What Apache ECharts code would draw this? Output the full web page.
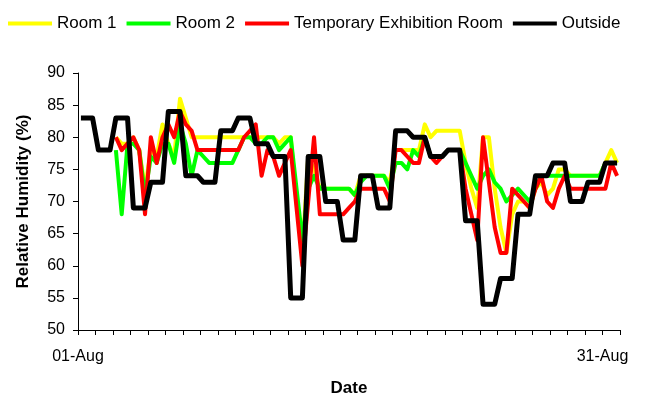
<!DOCTYPE html>
<html>
<head>
<meta charset="utf-8">
<script src="https://cdn.jsdelivr.net/npm/echarts@6/dist/echarts.min.js"></script>
<style>
html, body { margin: 0; padding: 0; background: #fff; }
#chart { width: 646px; height: 398px; }
</style>
</head>
<body>
<div id="chart"></div>
<script>
// three readings a day (8-hour slots), 01-Aug to 31-Aug
const seriesNames = ['Room 1', 'Room 2', 'Temporary Exhibition Room', 'Outside'];
const seriesColors = ['#ffff00', '#00ff00', '#ff0000', '#000000'];
const dayLabels = { 0: '01-Aug', 30: '31-Aug' };

const room1 = [
    null, null, null, null, null, null, 80, 79, 79, 80, 78, 72, 78, 77, 82, 79, 77, 86,
    83, 80, 80, 80, 80, 80, 80, 80, 80, 80, 80, 80, 80, 80, 80, 80, 79, 80,
    80, 70, 62, 77, 75, 72, 72, 72, 72, 72, 72, 71, 74, 74, 74, 74, 74, 73,
    78, 78, 78, 78, 78, 82, 80, 81, 81, 81, 81, 81, 76, 72, 69, 80, 80, 72,
    66, 62, 68, 70, 70, 69, 72, 73, 71, 72, 75, 75, 74, 74, 74, 74, 74, 74,
    76, 78, 76
];
const room2 = [
    null, null, null, null, null, null, 78, 68, 79, 79, 78, 71, 77, 76, 79, 79, 76, 82,
    79, 74, 78, 77, 76, 76, 76, 76, 76, 78, 80, 80, 79, 79, 80, 80, 78, 79,
    80, 72, 64, 72, 74, 72, 72, 72, 72, 72, 72, 71, 73, 74, 74, 74, 74, 72,
    76, 76, 75, 78, 77, 80, 77, 77, 77, 78, 78, 78, 76, 74, 72, 74, 75, 73,
    72, 70, 71, 72, 71, 70, 72, 74, 74, 74, 74, 74, 74, 74, 74, 74, 74, 74,
    76, 76, 76
];
const tempExhibition = [
    null, null, null, null, null, null, 80, 78, 79, 80, 78, 68, 80, 76, 80, 82, 80, 84,
    82, 81, 78, 78, 78, 78, 78, 78, 78, 78, 80, 81, 82, 74, 78, 77, 74, 76,
    78, 69, 60, 70, 80, 68, 68, 68, 68, 68, 69, 70, 72, 72, 72, 72, 72, 70,
    78, 78, 77, 76, 76, 80, 77, 76, 77, 78, 78, 78, 72, 68, 64, 80, 73, 66,
    62, 62, 72, 71, 70, 69, 72, 74, 70, 69, 72, 74, 72, 72, 72, 72, 72, 72,
    72, 76, 74
];
const outside = [
    83, 83, 83, 78, 78, 78, 83, 83, 83, 69, 69, 69, 73, 73, 73, 84, 84, 84,
    74, 74, 74, 73, 73, 73, 81, 81, 81, 83, 83, 83, 79, 79, 79, 77, 77, 77,
    55, 55, 55, 77, 77, 77, 70, 70, 70, 64, 64, 64, 74, 74, 74, 69, 69, 69,
    81, 81, 81, 80, 80, 80, 77, 77, 77, 78, 78, 78, 67, 67, 67, 54, 54, 54,
    58, 58, 58, 68, 68, 68, 74, 74, 74, 76, 76, 76, 70, 70, 70, 73, 73, 73,
    76, 76, 76
];

// each reading sits in the middle of its 8-hour slot (x in days from 01-Aug)
const readingTimes = outside.map((_, i) => (i + 0.5) / 3);

const allSeries = [room1, room2, tempExhibition, outside];
const font = 'Liberation Sans, Arial, sans-serif';

let chart = echarts.init(document.getElementById('chart'));

let option = {
    animation: false,
    backgroundColor: '#fff',
    legend: {
        left: 3,
        top: 10,
        icon: 'rect',
        itemWidth: 44,
        itemHeight: 4,
        itemGap: 10,
        textStyle: { fontFamily: font, fontSize: 17, color: '#000' },
        data: seriesNames
    },
    grid: {
        left: 78,
        right: 26,
        top: 73,
        bottom: 68,
        outerBoundsMode: 'none'
    },
    xAxis: {
        type: 'value',
        min: 0,
        max: 31,
        interval: 1,
        name: 'Date',
        nameLocation: 'middle',
        nameGap: 50,
        nameTextStyle: { fontFamily: font, fontSize: 17, fontWeight: 'bold', color: '#000' },
        axisLine: { lineStyle: { color: '#000', width: 1 } },
        axisTick: { length: 5, lineStyle: { color: '#000' } },
        axisLabel: {
            margin: 19,
            fontFamily: font,
            fontSize: 16,
            color: '#000',
            formatter: v => dayLabels[v] || ''
        },
        splitLine: { show: false }
    },
    yAxis: {
        type: 'value',
        min: 50,
        max: 90,
        interval: 5,
        name: 'Relative Humidity (%)',
        nameLocation: 'middle',
        nameGap: 46,
        nameTextStyle: { fontFamily: font, fontSize: 17, fontWeight: 'bold', color: '#000' },
        axisLine: { show: true, lineStyle: { color: '#000', width: 1 } },
        axisTick: { show: true, length: 5, lineStyle: { color: '#000' } },
        axisLabel: { margin: 13, fontFamily: font, fontSize: 16, color: '#000' },
        splitLine: { show: false }
    },
    series: allSeries.map((values, k) => ({
        name: seriesNames[k],
        type: 'line',
        symbol: 'none',
        color: seriesColors[k],
        lineStyle: { width: k === 3 ? 5 : 4, join: 'round' },
        emphasis: { disabled: true },
        z: 2 + k,
        data: values.map((v, i) => [readingTimes[i], v])
    }))
};

chart.setOption(option);
</script>
</body>
</html>
